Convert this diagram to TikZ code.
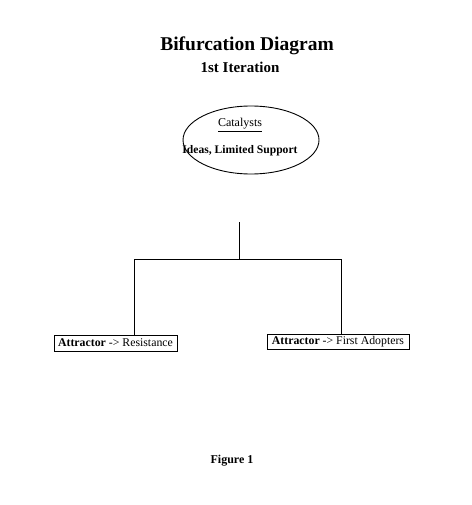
\documentclass[tikz,border=0pt]{standalone}
\usepackage{fontspec}
\setmainfont{Liberation Serif}
\usetikzlibrary{shapes.geometric}
\begin{document}
\begin{tikzpicture}[x=1pt,y=-1pt,
  line/.style={draw=black,line width=0.9pt},
  attbox/.style={draw=black,line width=0.9pt,inner sep=0pt,font=\fontsize{11.8}{13}\selectfont},
  lbl/.style={inner sep=0pt}]
\useasboundingbox (0,0) rectangle (471,505);
\node[lbl,font=\fontsize{19.5}{22}\bfseries\selectfont] (title) at (247,46) {Bifurcation Diagram};
\node[lbl,font=\fontsize{15}{17}\bfseries\selectfont] (sub) at (240,67) {1st Iteration};
\node[draw=black,line width=0.9pt,ellipse,minimum width=136pt,minimum height=68pt,inner sep=0pt] (cat) at (251,140) {};
\node[lbl,font=\fontsize{12}{14}\selectfont] (catt) at (240,125) {\underline{Catalysts}};
\node[lbl,font=\fontsize{11.6}{13}\bfseries\selectfont] (ideas) at (240,151) {Ideas, Limited Support};
\coordinate (top) at (239,222);
\coordinate (mid) at (239,259);
\coordinate (lc) at (134,259);
\coordinate (rc) at (341,259);
\node[attbox,minimum width=123pt,minimum height=16pt] (res) at (115.5,343) {\textbf{Attractor} -> Resistance};
\node[attbox,minimum width=142pt,minimum height=15pt] (adp) at (338,341.5) {\textbf{Attractor} -> First Adopters};
\draw[line] (top) -- (mid);
\draw[line] (lc) -- (rc);
\draw[line] (lc) -- (lc |- res.north);
\draw[line] (rc) -- (rc |- adp.north);
\node[lbl,font=\fontsize{12}{14}\bfseries\selectfont] (fig) at (232,461) {Figure 1};
\end{tikzpicture}
\end{document}
